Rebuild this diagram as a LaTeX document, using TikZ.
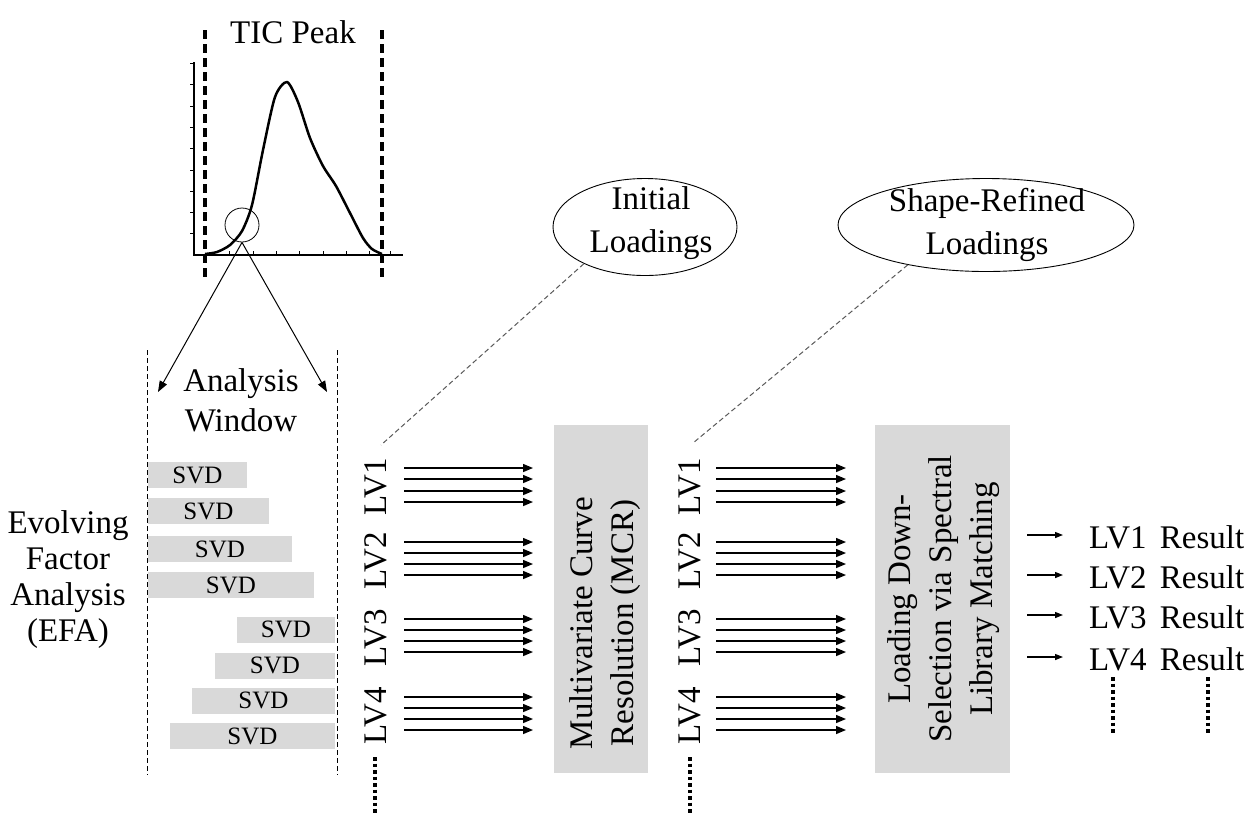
\documentclass[tikz,border=0pt]{standalone}
\usepackage{fontspec}
\setmainfont{Liberation Serif}
\usetikzlibrary{arrows.meta,shapes.geometric}
\definecolor{boxgray}{HTML}{D9D9D9}
\begin{document}
\begin{tikzpicture}[x=1pt,y=-1pt,
  bigtxt/.style={font=\fontsize{33}{36}\selectfont, align=center, inner sep=0pt},
  rottxt/.style={font=\fontsize{33}{41}\selectfont, align=center, inner sep=0pt, rotate=90},
  svdbar/.style={fill=boxgray, draw=none, minimum height=26pt, inner sep=0pt, font=\fontsize{25}{28}\selectfont},
  graybox/.style={fill=boxgray, draw=none, inner sep=0pt},
  lvlab/.style={font=\fontsize{33}{36}\selectfont, inner sep=0pt, rotate=90},
  parr/.style={-{Triangle[length=10pt,width=8pt]}, line width=1.4pt},
  resarr/.style={-{Triangle[length=8pt,width=6pt]}, line width=1.3pt},
  thickdash/.style={line width=3.5pt, dash pattern=on 9pt off 5pt},
  thindash/.style={line width=0.9pt, dash pattern=on 5pt off 3pt},
  leaderline/.style={line width=1pt, draw=black!65, dash pattern=on 5pt off 3pt},
  dotcol/.style={line width=4pt, dash pattern=on 3.5pt off 3pt},
  windarr/.style={-{Triangle[length=11pt,width=8pt]}, line width=1pt},
  loadell/.style={ellipse, draw, line width=0.9pt, inner sep=0pt},
  elltxt/.style={font=\fontsize{33}{43}\selectfont, align=center, inner sep=0pt},
]
\useasboundingbox (0,0) rectangle (1247,815);

% ---------- TIC plot ----------
\node[bigtxt] (tic) at (293,32) {TIC Peak};
\draw[line width=2pt] (194,62) -- (194,255) -- (403,255);
\foreach \yy in {63,84,106,127,148,170,191,212,233}
  \draw[line width=1pt] (190,\yy) -- (194,\yy);
\foreach \xx in {229,253,276,299,323,346,369,390}
  \draw[line width=1pt] (\xx,251) -- (\xx,255);
\draw[thickdash] (205,30) -- (205,277);
\draw[thickdash] (382,30) -- (382,277);
\draw[line width=2.5pt, line join=round] plot[smooth, tension=0.45] coordinates {
  (205,254) (217,252) (230,245) (242,231) (252,205) (263,150) (275,97) (287,82)
  (298,102) (310,138) (323,166) (336,186) (350,213) (363,238) (372,249) (382,254)};
\node[circle, draw, line width=0.8pt, minimum size=34pt, inner sep=0pt] (circ) at (242,225) {};

% ---------- analysis window ----------
\coordinate (wl) at (158,392);
\coordinate (wr) at (327,392);
\draw[windarr] (circ.south) -- (wl);
\draw[windarr] (circ.south) -- (wr);
\draw[thindash] (147,350) -- (147,775);
\draw[thindash] (337,350) -- (337,775);
\node[bigtxt, font=\fontsize{33}{40}\selectfont] (aw) at (241,400) {Analysis\\Window};

% ---------- SVD bars ----------
\node[svdbar, minimum width=99pt]  (s1) at (197.5,475) {SVD};
\node[svdbar, minimum width=121pt] (s2) at (208.5,511) {SVD};
\node[svdbar, minimum width=144pt] (s3) at (220,549) {SVD};
\node[svdbar, minimum width=166pt] (s4) at (231,585) {SVD};
\node[svdbar, minimum width=98pt]  (s5) at (286,629.5) {SVD};
\node[svdbar, minimum width=120pt] (s6) at (275,665.5) {SVD};
\node[svdbar, minimum width=143pt] (s7) at (263.5,700.5) {SVD};
\node[svdbar, minimum width=165pt] (s8) at (252.5,736) {SVD};

% ---------- EFA ----------
\node[bigtxt] (efa) at (68,580) {Evolving\\Factor\\Analysis\\(EFA)};

% ---------- first LV column ----------
\node[lvlab] (a1) at (376,487) {LV1};
\node[lvlab] (a2) at (376,561) {LV2};
\node[lvlab] (a3) at (376,638) {LV3};
\node[lvlab] (a4) at (376,716) {LV4};
\coordinate (adot1) at (375,757);
\coordinate (adot2) at (375,815);
\draw[dotcol] (adot1) -- (adot2);

\foreach \g/\ys in {1/{468,479,491,502},2/{542,553,564,575},3/{619,630,641,652},4/{697,708,719,730}}{
  \foreach \yy in \ys {
    \coordinate (pa) at (404,\yy);
    \coordinate (pb) at (533,\yy);
    \draw[parr] (pa) -- (pb);
    \coordinate (qa) at (716,\yy);
    \coordinate (qb) at (846,\yy);
    \draw[parr] (qa) -- (qb);
  }
}

% ---------- MCR box ----------
\node[graybox, minimum width=94pt, minimum height=348pt] (mcr) at (601,599) {};
\node[rottxt] (mcrt) at (605,623) {Multivariate Curve\\Resolution (MCR)};

% ---------- second LV column ----------
\node[lvlab] (b1) at (690,487) {LV1};
\node[lvlab] (b2) at (690,561) {LV2};
\node[lvlab] (b3) at (690,638) {LV3};
\node[lvlab] (b4) at (690,716) {LV4};
\coordinate (bdot1) at (690,757);
\coordinate (bdot2) at (690,815);
\draw[dotcol] (bdot1) -- (bdot2);

% ---------- second box ----------
\node[graybox, minimum width=135pt, minimum height=348pt] (lds) at (942.5,599) {};
\node[rottxt] (ldst) at (944,599) {Loading Down-\\Selection via Spectral\\Library Matching};

% ---------- ellipses ----------
\node[loadell, minimum width=184pt, minimum height=97pt] (e1) at (645,227) {};
\node[elltxt] (e1t) at (651,223) {Initial\\Loadings};
\node[loadell, minimum width=296pt, minimum height=93pt] (e2) at (986,225) {};
\node[elltxt] (e2t) at (987,225) {Shape-Refined\\Loadings};
\coordinate (c1) at (381,445);
\coordinate (c2) at (693,443);
\draw[leaderline] (e1.-149) -- (c1);
\draw[leaderline] (e2.-153) -- (c2);

% ---------- results ----------
\foreach \i/\yy in {1/535,2/575,3/615,4/657}{
  \coordinate (ra\i) at (1027,\yy);
  \coordinate (rb\i) at (1063,\yy);
  \draw[resarr] (ra\i) -- (rb\i);
  \node[anchor=west, inner sep=0pt, font=\fontsize{33}{36}\selectfont] (r\i) at (1089,\yy+2) {LV\i\hspace{0.4em}Result};
}
\coordinate (rd1) at (1113,677);
\coordinate (rd2) at (1113,733);
\coordinate (rd3) at (1208,677);
\coordinate (rd4) at (1208,733);
\draw[dotcol] (rd1) -- (rd2);
\draw[dotcol] (rd3) -- (rd4);
\end{tikzpicture}
\end{document}
